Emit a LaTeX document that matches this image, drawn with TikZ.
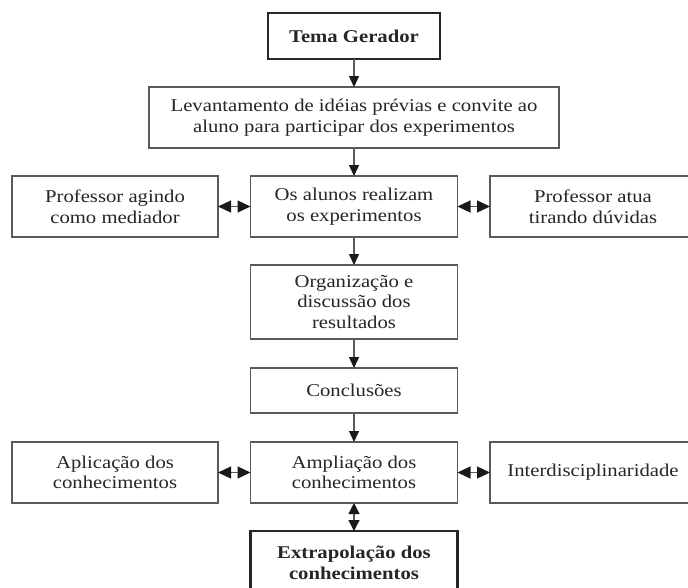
\documentclass[tikz,border=0pt]{standalone}
\usepackage{fontspec}
\setmainfont{Liberation Serif}[FakeStretch=1.15]
\usetikzlibrary{arrows.meta}
\definecolor{linegray}{HTML}{5A5A5A}
\definecolor{textgray}{HTML}{262626}
\begin{document}
\begin{tikzpicture}[x=1pt,y=-1pt,
  box/.style={draw=linegray, line width=1.4pt, fill=white, align=center,
    text=textgray, font=\fontsize{18}{20.5}\selectfont, inner sep=0pt, outer sep=0pt},
  boldbox/.style={box, draw=black!85, line width=2.6pt,
    font=\fontsize{18}{20.5}\selectfont\bfseries},
  arr/.style={-{Triangle[length=11pt,width=10pt,color=black!90]}, line width=1.3pt, draw=linegray},
  darr/.style={{Triangle[length=13pt,width=12pt,color=black!90]}-{Triangle[length=13pt,width=12pt,color=black!90]},
    line width=1.3pt, draw=linegray},
  vdarr/.style={{Triangle[length=11pt,width=11pt,color=black!90]}-{Triangle[length=11pt,width=11pt,color=black!90]},
    line width=1.3pt, draw=linegray}
]
\useasboundingbox (0,0) rectangle (688,587);
\fill[white] (0,0) rectangle (688,587);

\node[boldbox, minimum width=172pt, minimum height=46pt] (tema) at (354,36) {Tema Gerador};
\node[box, minimum width=410pt, minimum height=61pt] (lev) at (354,117.5)
  {Levantamento de idéias prévias e convite ao\\aluno para participar dos experimentos};

\node[box, minimum width=206pt, minimum height=61pt] (profmed) at (115,206.5)
  {Professor agindo\\como mediador};
\node[box, minimum width=207pt, minimum height=61pt] (alunos) at (354,206.5)
  {Os alunos realizam\\os experimentos};
\node[box, minimum width=206pt, minimum height=61pt] (profduv) at (593,206.5)
  {Professor atua\\tirando dúvidas};

\node[box, minimum width=207pt, minimum height=74pt] (org) at (354,302)
  {Organização e\\discussão dos\\resultados};
\node[box, minimum width=207pt, minimum height=45pt] (conc) at (354,390.5) {Conclusões};

\node[box, minimum width=206pt, minimum height=61pt] (aplic) at (115,472.5)
  {Aplicação dos\\conhecimentos};
\node[box, minimum width=207pt, minimum height=61pt] (ampl) at (354,472.5)
  {Ampliação dos\\conhecimentos};
\node[box, minimum width=206pt, minimum height=61pt] (inter) at (593,472.5)
  {Interdisciplinaridade};

\node[boldbox, minimum width=207pt, minimum height=64pt] (extra) at (354,563)
  {Extrapolação dos\\conhecimentos};

\draw[arr] (tema) -- (lev);
\draw[arr] (lev) -- (alunos);
\draw[arr] (alunos) -- (org);
\draw[arr] (org) -- (conc);
\draw[arr] (conc) -- (ampl);
\draw[darr] (profmed) -- (alunos);
\draw[darr] (alunos) -- (profduv);
\draw[darr] (aplic) -- (ampl);
\draw[darr] (ampl) -- (inter);
\draw[vdarr] (ampl) -- (extra);
\end{tikzpicture}
\end{document}
